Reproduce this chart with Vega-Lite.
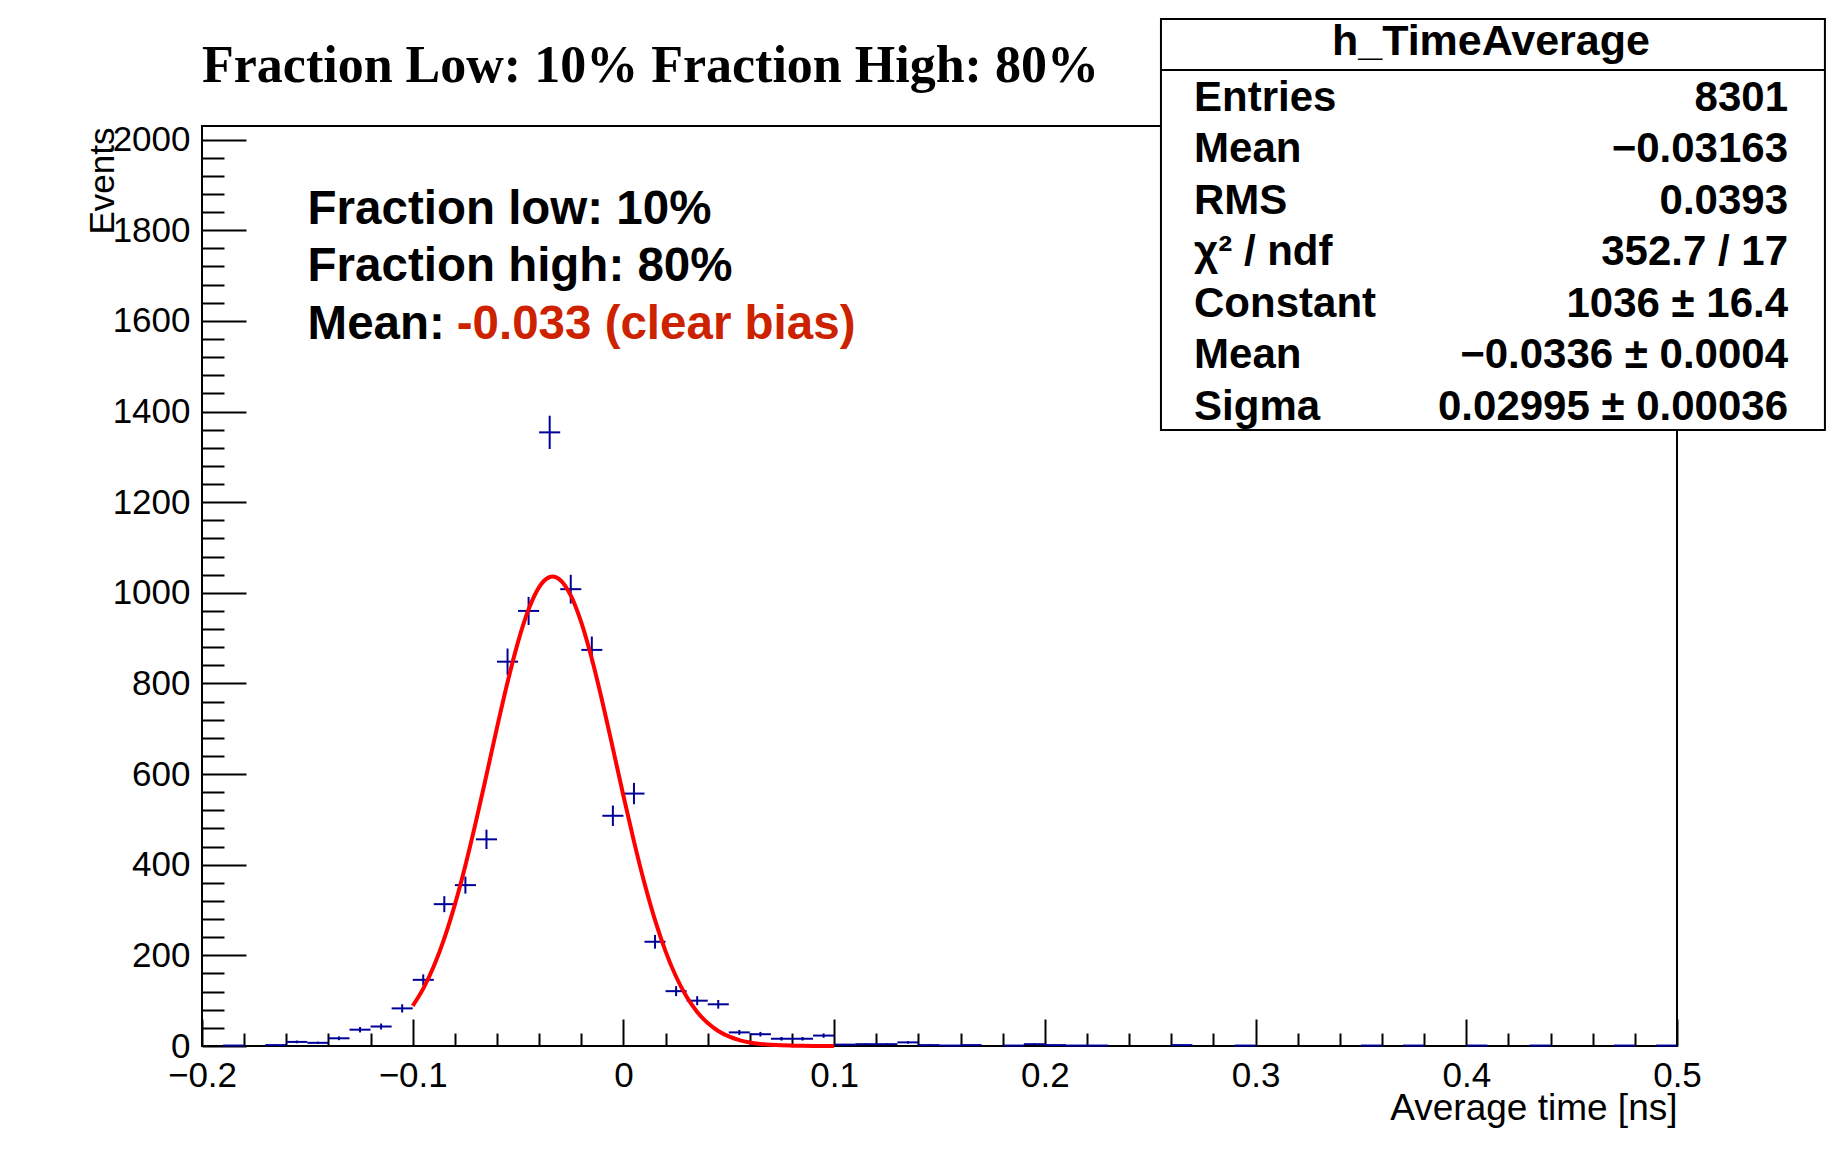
{
  "$schema": "https://vega.github.io/schema/vega-lite/v6.json",
  "width": 1475,
  "height": 920,
  "autosize": {"type": "none"},
  "padding": {"left": 202, "top": 126, "right": 157, "bottom": 110},
  "background": "white",
  "title": {
    "text": "Fraction Low: 10% Fraction High: 80%",
    "anchor": "start",
    "frame": "group",
    "font": "Liberation Serif",
    "fontWeight": "bold",
    "fontSize": 52,
    "color": "black",
    "baseline": "alphabetic",
    "offset": -116
  },
  "config": {
    "view": {"stroke": "black", "strokeWidth": 2},
    "text": {"font": "Liberation Sans"}
  },
  "datasets": {
    "h": [
      {"x": -0.185, "x0": -0.19, "x1": -0.18, "y": 1, "err": 1},
      {"x": -0.165, "x0": -0.17, "x1": -0.16, "y": 2, "err": 1.414},
      {"x": -0.155, "x0": -0.16, "x1": -0.15, "y": 9, "err": 3},
      {"x": -0.145, "x0": -0.15, "x1": -0.14, "y": 7, "err": 2.646},
      {"x": -0.135, "x0": -0.14, "x1": -0.13, "y": 17, "err": 4.123},
      {"x": -0.125, "x0": -0.13, "x1": -0.12, "y": 36, "err": 6},
      {"x": -0.115, "x0": -0.12, "x1": -0.11, "y": 43, "err": 6.557},
      {"x": -0.105, "x0": -0.11, "x1": -0.1, "y": 83, "err": 9.11},
      {"x": -0.095, "x0": -0.1, "x1": -0.09, "y": 146, "err": 12.083},
      {"x": -0.085, "x0": -0.09, "x1": -0.08, "y": 313, "err": 17.692},
      {"x": -0.075, "x0": -0.08, "x1": -0.07, "y": 355, "err": 18.841},
      {"x": -0.065, "x0": -0.07, "x1": -0.06, "y": 456, "err": 21.354},
      {"x": -0.055, "x0": -0.06, "x1": -0.05, "y": 848, "err": 29.12},
      {"x": -0.045, "x0": -0.05, "x1": -0.04, "y": 960, "err": 30.984},
      {"x": -0.035, "x0": -0.04, "x1": -0.03, "y": 1354, "err": 36.797},
      {"x": -0.025, "x0": -0.03, "x1": -0.02, "y": 1008, "err": 31.749},
      {"x": -0.015, "x0": -0.02, "x1": -0.01, "y": 874, "err": 29.563},
      {"x": -0.005, "x0": -0.01, "x1": 0, "y": 508, "err": 22.539},
      {"x": 0.005, "x0": 0, "x1": 0.01, "y": 557, "err": 23.601},
      {"x": 0.015, "x0": 0.01, "x1": 0.02, "y": 230, "err": 15.166},
      {"x": 0.025, "x0": 0.02, "x1": 0.03, "y": 121, "err": 11},
      {"x": 0.035, "x0": 0.03, "x1": 0.04, "y": 100, "err": 10},
      {"x": 0.045, "x0": 0.04, "x1": 0.05, "y": 92, "err": 9.592},
      {"x": 0.055, "x0": 0.05, "x1": 0.06, "y": 30, "err": 5.477},
      {"x": 0.065, "x0": 0.06, "x1": 0.07, "y": 26, "err": 5.099},
      {"x": 0.075, "x0": 0.07, "x1": 0.08, "y": 16, "err": 4},
      {"x": 0.085, "x0": 0.08, "x1": 0.09, "y": 16, "err": 4},
      {"x": 0.095, "x0": 0.09, "x1": 0.1, "y": 23, "err": 4.796},
      {"x": 0.105, "x0": 0.1, "x1": 0.11, "y": 3, "err": 1.732},
      {"x": 0.115, "x0": 0.11, "x1": 0.12, "y": 4, "err": 2},
      {"x": 0.125, "x0": 0.12, "x1": 0.13, "y": 4, "err": 2},
      {"x": 0.135, "x0": 0.13, "x1": 0.14, "y": 8, "err": 2.828},
      {"x": 0.145, "x0": 0.14, "x1": 0.15, "y": 2, "err": 1.414},
      {"x": 0.155, "x0": 0.15, "x1": 0.16, "y": 1, "err": 1},
      {"x": 0.165, "x0": 0.16, "x1": 0.17, "y": 2, "err": 1.414},
      {"x": 0.185, "x0": 0.18, "x1": 0.19, "y": 1, "err": 1},
      {"x": 0.195, "x0": 0.19, "x1": 0.2, "y": 4, "err": 2},
      {"x": 0.205, "x0": 0.2, "x1": 0.21, "y": 2, "err": 1.414},
      {"x": 0.215, "x0": 0.21, "x1": 0.22, "y": 1, "err": 1},
      {"x": 0.225, "x0": 0.22, "x1": 0.23, "y": 1, "err": 1},
      {"x": 0.265, "x0": 0.26, "x1": 0.27, "y": 2, "err": 1.414},
      {"x": 0.295, "x0": 0.29, "x1": 0.3, "y": 1, "err": 1},
      {"x": 0.355, "x0": 0.35, "x1": 0.36, "y": 1, "err": 1},
      {"x": 0.375, "x0": 0.37, "x1": 0.38, "y": 1, "err": 1},
      {"x": 0.405, "x0": 0.4, "x1": 0.41, "y": 1, "err": 1},
      {"x": 0.435, "x0": 0.43, "x1": 0.44, "y": 1, "err": 1},
      {"x": 0.475, "x0": 0.47, "x1": 0.48, "y": 1, "err": 1},
      {"x": 0.495, "x0": 0.49, "x1": 0.5, "y": 1, "err": 1}
    ],
    "fit": [
      {"x": -0.1, "y": 88.7}, {"x": -0.095, "y": 126.7}, {"x": -0.09, "y": 175.9},
      {"x": -0.085, "y": 237.6}, {"x": -0.08, "y": 312.0}, {"x": -0.075, "y": 398.5},
      {"x": -0.07, "y": 495.0}, {"x": -0.065, "y": 598.0}, {"x": -0.06, "y": 702.5},
      {"x": -0.055, "y": 802.6}, {"x": -0.05, "y": 891.8}, {"x": -0.045, "y": 963.6},
      {"x": -0.04, "y": 1012.6}, {"x": -0.035, "y": 1034.9}, {"x": -0.0336, "y": 1036.0},
      {"x": -0.03, "y": 1028.5}, {"x": -0.025, "y": 994.2}, {"x": -0.02, "y": 934.5},
      {"x": -0.015, "y": 854.3}, {"x": -0.01, "y": 759.5}, {"x": -0.005, "y": 656.6},
      {"x": 0, "y": 552.2}, {"x": 0.005, "y": 451.5}, {"x": 0.01, "y": 359.0},
      {"x": 0.015, "y": 277.7}, {"x": 0.02, "y": 208.9}, {"x": 0.025, "y": 152.8},
      {"x": 0.03, "y": 108.7}, {"x": 0.035, "y": 75.2}, {"x": 0.04, "y": 50.6},
      {"x": 0.045, "y": 33.1}, {"x": 0.05, "y": 21.1}, {"x": 0.055, "y": 13.0},
      {"x": 0.06, "y": 7.8}, {"x": 0.065, "y": 4.6}, {"x": 0.07, "y": 2.6},
      {"x": 0.075, "y": 1.4}, {"x": 0.08, "y": 0.8}, {"x": 0.085, "y": 0.4},
      {"x": 0.09, "y": 0.2}, {"x": 0.095, "y": 0.1}, {"x": 0.1, "y": 0.05}
    ]
  },
  "layer": [
    {
      "data": {"name": "h"},
      "mark": {"type": "rule", "color": "#000099", "strokeWidth": 2},
      "encoding": {
        "x": {
          "field": "x0",
          "type": "quantitative",
          "title": "Average time [ns]",
          "scale": {"domain": [-0.2, 0.5], "nice": false, "zero": false},
          "axis": {
            "title": "Average time [ns]",
            "values": [-0.2, -0.18, -0.16, -0.14, -0.12, -0.1, -0.08, -0.06, -0.04, -0.02, 0, 0.02, 0.04, 0.06, 0.08, 0.1, 0.12, 0.14, 0.16, 0.18, 0.2, 0.22, 0.24, 0.26, 0.28, 0.3, 0.32, 0.34, 0.36, 0.38, 0.4, 0.42, 0.44, 0.46, 0.48, 0.5],
            "tickCount": 200,
            "format": "~g",
            "labelExpr": "abs(datum.value*10 - round(datum.value*10)) < 0.001 ? datum.label : ''",
            "domain": false,
            "grid": false,
            "tickSize": {"condition": {"test": "abs(datum.value*10 - round(datum.value*10)) < 0.001", "value": -27}, "value": -13},
            "tickColor": "black",
            "tickWidth": 2,
            "labelFont": "Liberation Sans",
            "labelFontSize": 35,
            "labelColor": "black",
            "labelPadding": 39,
            "labelFlush": false,
            "labelOverlap": false,
            "labelBound": false,
            "titleFont": "Liberation Sans",
            "titleFontSize": 37,
            "titleFontWeight": "normal",
            "titleColor": "black",
            "titleX": 1475,
            "titleY": 73,
            "titleAlign": "right",
            "titleBaseline": "alphabetic",
            "zindex": 0
          }
        },
        "x2": {"field": "x1"},
        "y": {
          "field": "y",
          "type": "quantitative",
          "title": "Events",
          "scale": {"domain": [0, 2030], "nice": false, "zero": true},
          "axis": {
            "title": "Events",
            "values": [0, 40, 80, 120, 160, 200, 240, 280, 320, 360, 400, 440, 480, 520, 560, 600, 640, 680, 720, 760, 800, 840, 880, 920, 960, 1000, 1040, 1080, 1120, 1160, 1200, 1240, 1280, 1320, 1360, 1400, 1440, 1480, 1520, 1560, 1600, 1640, 1680, 1720, 1760, 1800, 1840, 1880, 1920, 1960, 2000],
            "tickCount": 200,
            "format": "d",
            "labelExpr": "datum.value % 200 === 0 ? datum.label : ''",
            "domain": false,
            "grid": false,
            "tickSize": {"condition": {"test": "datum.value % 200 === 0", "value": -44}, "value": -22},
            "tickColor": "black",
            "tickWidth": 2,
            "labelFont": "Liberation Sans",
            "labelFontSize": 35,
            "labelColor": "black",
            "labelPadding": 56,
            "labelFlush": false,
            "labelOverlap": false,
            "labelBound": false,
            "titleFont": "Liberation Sans",
            "titleFontSize": 35,
            "titleFontWeight": "normal",
            "titleColor": "black",
            "titleAngle": 270,
            "titleX": -89,
            "titleY": 1,
            "titleAlign": "right",
            "titleBaseline": "alphabetic",
            "zindex": 0
          }
        }
      }
    },
    {
      "data": {"name": "h"},
      "mark": {"type": "errorbar", "color": "#000099", "thickness": 2},
      "encoding": {
        "x": {"field": "x", "type": "quantitative", "title": "Average time [ns]"},
        "y": {"field": "y", "type": "quantitative", "title": "Events"},
        "yError": {"field": "err"}
      }
    },
    {
      "data": {"name": "fit"},
      "mark": {"type": "line", "color": "#ff0000", "strokeWidth": 4, "interpolate": "monotone"},
      "encoding": {
        "x": {"field": "x", "type": "quantitative", "title": "Average time [ns]"},
        "y": {"field": "y", "type": "quantitative", "title": "Events"}
      }
    },
    {
      "data": {"values": [{}]},
      "mark": {"type": "text", "text": ["Fraction low: 10%", "Fraction high: 80%", "Mean:"], "lineHeight": 57.5, "align": "left", "baseline": "alphabetic", "font": "Liberation Sans", "fontWeight": "bold", "fontSize": 47.5, "color": "black"},
      "encoding": {"x": {"datum": -0.1499}, "y": {"datum": 1813.8}}
    },
    {
      "data": {"values": [{}]},
      "mark": {"type": "text", "text": "-0.033 (clear bias)", "align": "left", "baseline": "alphabetic", "font": "Liberation Sans", "fontWeight": "bold", "fontSize": 47.5, "color": "#cc2200"},
      "encoding": {"x": {"datum": -0.0791}, "y": {"datum": 1560.0}}
    },
    {
      "data": {"values": [{}]},
      "mark": {"type": "rect", "fill": "white", "stroke": "black", "strokeWidth": 2},
      "encoding": {"x": {"datum": 0.2551}, "x2": {"datum": 0.5702}, "y": {"datum": 1359.2}, "y2": {"datum": 2266.1}}
    },
    {
      "data": {"values": [{}]},
      "mark": {"type": "rule", "color": "black", "strokeWidth": 2},
      "encoding": {"x": {"datum": 0.2551}, "x2": {"datum": 0.5702}, "y": {"datum": 2153.6}}
    },
    {
      "data": {"values": [{}]},
      "mark": {"type": "text", "text": "h_TimeAverage", "align": "center", "baseline": "alphabetic", "font": "Liberation Sans", "fontWeight": "bold", "fontSize": 43, "color": "black"},
      "encoding": {"x": {"datum": 0.4117}, "y": {"datum": 2186.7}}
    },
    {
      "data": {"values": [{}]},
      "mark": {"type": "text", "text": ["Entries", "Mean", "RMS", "χ² / ndf", "Constant", "Mean", "Sigma"], "lineHeight": 51.5, "align": "left", "baseline": "alphabetic", "font": "Liberation Sans", "fontWeight": "bold", "fontSize": 42, "color": "black"},
      "encoding": {"x": {"datum": 0.2708}, "y": {"datum": 2063.1}}
    },
    {
      "data": {"values": [{}]},
      "mark": {"type": "text", "text": ["8301", "−0.03163", "0.0393", "352.7 / 17", "1036 ± 16.4", "−0.0336 ± 0.0004", "0.02995 ± 0.00036"], "lineHeight": 51.5, "align": "right", "baseline": "alphabetic", "font": "Liberation Sans", "fontWeight": "bold", "fontSize": 42, "color": "black"},
      "encoding": {"x": {"datum": 0.5527}, "y": {"datum": 2063.1}}
    }
  ]
}
